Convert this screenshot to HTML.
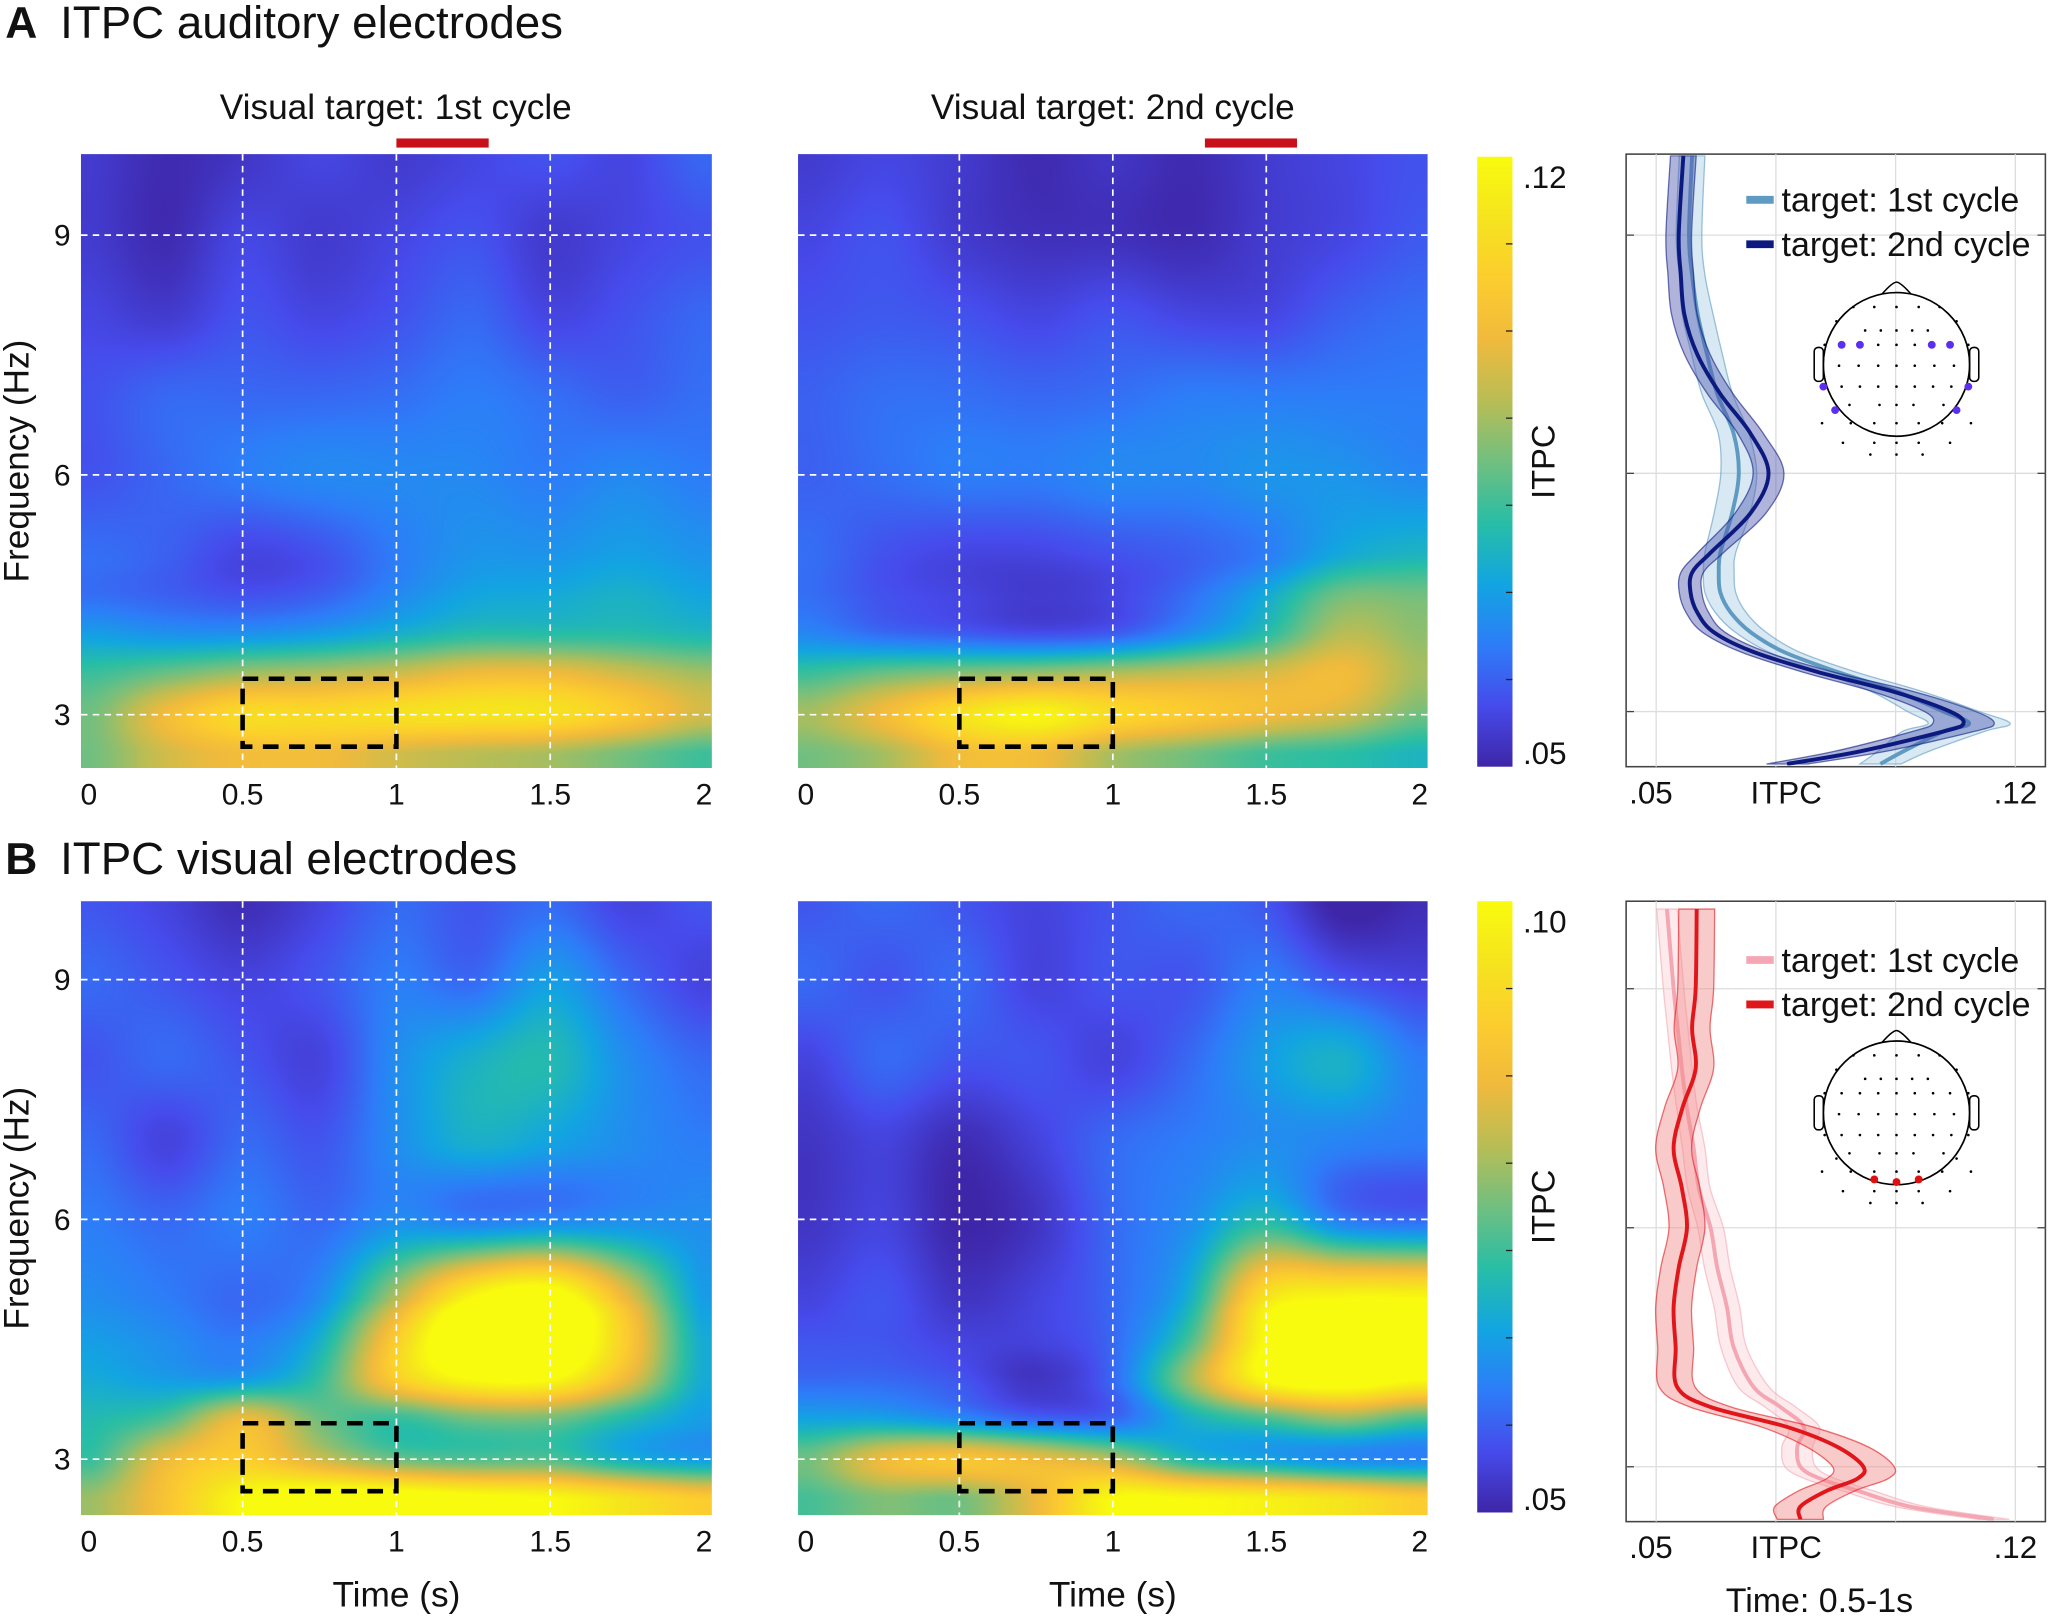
<!DOCTYPE html>
<html><head><meta charset="utf-8">
<style>
html,body{margin:0;padding:0;background:#fff;}
body{width:2048px;height:1617px;overflow:hidden;}
#root{position:absolute;left:0;top:0;width:1568px;height:1238px;transform:scale(1.306122);transform-origin:0 0;}
canvas{position:absolute;}
svg{position:absolute;left:0;top:0;}
text{font-family:"Liberation Sans",Arial,sans-serif;fill:#111;}
</style></head>
<body>
<div id="root">
<canvas id="mA1" style="left:62px;top:118px;width:483px;height:470px" width="966" height="940"></canvas>
<canvas id="mA2" style="left:611px;top:118px;width:482px;height:470px" width="964" height="940"></canvas>
<canvas id="mB1" style="left:62px;top:690px;width:483px;height:470px" width="966" height="940"></canvas>
<canvas id="mB2" style="left:611px;top:690px;width:482px;height:470px" width="964" height="940"></canvas>
<svg id="svg" width="1568" height="1238" viewBox="0 0 1568 1238">
<defs>
<linearGradient id="parula" x1="0" y1="1" x2="0" y2="0">
<stop offset="0" stop-color="rgb(62,38,168)"/><stop offset="0.1" stop-color="rgb(70,75,235)"/>
<stop offset="0.2" stop-color="rgb(45,125,248)"/><stop offset="0.3" stop-color="rgb(18,165,225)"/>
<stop offset="0.4" stop-color="rgb(40,190,165)"/><stop offset="0.5" stop-color="rgb(113,191,128)"/>
<stop offset="0.6" stop-color="rgb(185,189,85)"/><stop offset="0.7" stop-color="rgb(240,186,60)"/>
<stop offset="0.8" stop-color="rgb(252,205,46)"/><stop offset="0.9" stop-color="rgb(245,228,30)"/>
<stop offset="1" stop-color="rgb(249,251,14)"/>
</linearGradient>
</defs>
</svg>
</div>
<script>
// ---------- heatmap data ----------
const times = [0,0.25,0.5,0.75,1,1.25,1.5,1.75,2];
const freqs = [10,9,8,7,6,5,4.5,4,3.5,3,2.5];
const mapA1 = [
[.054,.051,.053,.056,.054,.056,.058,.056,.061],
[.054,.051,.056,.054,.056,.058,.054,.056,.058],
[.056,.054,.058,.056,.058,.061,.056,.058,.061],
[.058,.061,.061,.061,.062,.064,.062,.060,.062],
[.058,.061,.064,.066,.066,.066,.064,.066,.064],
[.062,.060,.056,.058,.064,.068,.068,.070,.068],
[.062,.060,.058,.060,.066,.071,.072,.074,.071],
[.070,.068,.068,.070,.074,.078,.078,.078,.076],
[.080,.085,.090,.092,.095,.100,.100,.095,.090],
[.085,.100,.110,.110,.112,.113,.112,.105,.095],
[.085,.095,.100,.100,.095,.092,.090,.085,.080]];
const mapA2 = [
[.054,.056,.054,.051,.053,.051,.054,.056,.058],
[.056,.058,.054,.052,.052,.051,.054,.056,.059],
[.058,.059,.058,.056,.058,.056,.056,.060,.062],
[.060,.062,.062,.061,.062,.064,.064,.064,.064],
[.060,.062,.064,.064,.066,.066,.068,.068,.066],
[.062,.058,.056,.056,.058,.060,.064,.072,.075],
[.062,.058,.056,.054,.056,.062,.072,.085,.085],
[.066,.062,.060,.058,.060,.068,.078,.092,.088],
[.080,.085,.088,.090,.092,.094,.096,.100,.090],
[.090,.100,.112,.118,.110,.105,.100,.095,.085],
[.085,.090,.100,.100,.090,.085,.080,.078,.075]];
const mapB1 = [
[.056,.054,.051,.054,.058,.056,.058,.054,.056],
[.058,.056,.054,.056,.060,.058,.064,.058,.054],
[.056,.058,.056,.054,.062,.067,.069,.062,.058],
[.058,.054,.058,.056,.062,.067,.065,.062,.060],
[.060,.058,.060,.058,.062,.060,.061,.062,.062],
[.062,.060,.058,.062,.080,.100,.105,.085,.064],
[.064,.062,.060,.067,.090,.110,.110,.090,.066],
[.066,.064,.064,.071,.090,.100,.100,.085,.066],
[.069,.073,.085,.075,.071,.075,.075,.069,.064],
[.071,.085,.090,.082,.075,.073,.073,.067,.064],
[.078,.088,.100,.105,.105,.102,.100,.095,.090]];
const mapB2 = [
[.056,.058,.056,.054,.056,.058,.056,.049,.051],
[.058,.056,.058,.054,.056,.056,.060,.056,.054],
[.054,.058,.056,.056,.054,.058,.064,.067,.060],
[.052,.054,.051,.054,.058,.060,.062,.061,.060],
[.052,.054,.050,.052,.058,.062,.069,.060,.058],
[.054,.056,.052,.054,.058,.067,.095,.100,.100],
[.056,.056,.054,.054,.058,.072,.100,.110,.110],
[.058,.058,.056,.052,.058,.078,.100,.105,.100],
[.065,.065,.062,.058,.058,.067,.072,.077,.072],
[.075,.085,.088,.085,.080,.069,.065,.062,.061],
[.072,.076,.075,.085,.100,.100,.098,.095,.090]];

// ---------- line plot data ----------
const lineFreqA = [10,9,8.5,8,7.5,7,6.5,6,5.5,5,4.75,4.5,4.25,4,3.75,3.5,3.25,3,2.85,2.75,2.5,2.34];
const itpcA2 = [.0553,.0544,.0548,.0555,.058,.0625,.0684,.0719,.0684,.0606,.057,.0567,.058,.0612,.069,.0814,.0963,.1073,.1099,.106,.0898,.0755];
const seA2 =   [.0025,.0025,.0025,.0025,.0025,.0025,.0025,.003,.003,.0025,.0022,.0022,.0022,.0022,.0025,.003,.004,.005,.006,.006,.005,.004];
const itpcA1 = [.057,.0564,.057,.0581,.0599,.0619,.0651,.0661,.0648,.0625,.0622,.0625,.0645,.0684,.0749,.0853,.097,.106,.111,.106,.0982,.0937];
const seA1 =   [.0025,.0025,.0025,.003,.003,.003,.003,.0035,.0035,.003,.003,.003,.003,.003,.003,.0035,.005,.007,.008,.008,.005,.004];
const lineFreqB = [10,9,8.5,8,7.5,7,6.5,6,5.5,5,4.5,4,3.75,3.5,3.25,3,2.85,2.7,2.5,2.34];
const itpcB2 = [.0579,.0577,.057,.0577,.0551,.0534,.055,.056,.0544,.0534,.0538,.0541,.0606,.0755,.0853,.0904,.0892,.0833,.0781,.0781];
const seB2 =   [.0035,.0035,.0035,.0035,.0035,.0035,.0035,.0035,.0035,.0035,.0035,.0035,.004,.005,.006,.006,.006,.0055,.005,.0045];
const itpcB1 = [.0521,.0534,.0542,.055,.056,.0573,.0583,.0606,.0619,.0638,.0651,.069,.0742,.0788,.0775,.0781,.082,.0892,.0995,.1158];
const seB1 =   [.002,.002,.002,.002,.002,.0022,.0022,.0025,.0025,.0025,.0025,.003,.003,.003,.003,.003,.003,.003,.003,.003];

const timeTicks = [0,0.5,1,1.5,2];
const timeTickLabels = ['0','0.5','1','1.5','2'];
const freqTicks = [9,6,3];

// ---------- colormap ----------
const PAR = [[62,38,168],[70,75,235],[45,125,248],[18,165,225],[40,190,165],[113,191,128],[185,189,85],[240,186,60],[252,205,46],[245,228,30],[249,251,14]];
function cmap(u){u=Math.max(0,Math.min(1,u));const p=u*10;const i=Math.min(9,Math.floor(p));const f=p-i;const a=PAR[i],b=PAR[i+1];return [a[0]+(b[0]-a[0])*f,a[1]+(b[1]-a[1])*f,a[2]+(b[2]-a[2])*f];}
function cr(p0,p1,p2,p3,t){return 0.5*((2*p1)+(-p0+p2)*t+(2*p0-5*p1+4*p2-p3)*t*t+(-p0+3*p1-3*p2+p3)*t*t*t);}
function seg(arr,v,desc){
  const n=arr.length;
  if(desc){ if(v>=arr[0])return [0,0]; if(v<=arr[n-1])return [n-2,1];
    for(let i=0;i<n-1;i++){if(v<=arr[i]&&v>=arr[i+1])return [i,(arr[i]-v)/(arr[i]-arr[i+1])];}}
  else { if(v<=arr[0])return [0,0]; if(v>=arr[n-1])return [n-2,1];
    for(let i=0;i<n-1;i++){if(v>=arr[i]&&v<=arr[i+1])return [i,(v-arr[i])/(arr[i+1]-arr[i])];}}
  return [0,0];
}
function drawMap(id,M,vmin,vmax,t0,t1,fTop,fBot){
  const c=document.getElementById(id),ctx=c.getContext('2d');
  const W=c.width,H=c.height,img=ctx.createImageData(W,H);
  const R=M.length,C=M[0].length;
  const g=(r,k)=>M[Math.max(0,Math.min(R-1,r))][Math.max(0,Math.min(C-1,k))];
  for(let y=0;y<H;y++){
    const f=fTop+(fBot-fTop)*(y+0.5)/H;
    const [ri,rf]=seg(freqs,f,true);
    for(let x=0;x<W;x++){
      const t=t0+(t1-t0)*(x+0.5)/W;
      const [ci,cf]=seg(times,t,false);
      const rows=[];
      for(let dr=-1;dr<=2;dr++){const r=ri+dr;rows.push(cr(g(r,ci-1),g(r,ci),g(r,ci+1),g(r,ci+2),cf));}
      const v=cr(rows[0],rows[1],rows[2],rows[3],rf);
      const col=cmap((v-vmin)/(vmax-vmin));const o=(y*W+x)*4;
      img.data[o]=col[0];img.data[o+1]=col[1];img.data[o+2]=col[2];img.data[o+3]=255;
    }
  }
  ctx.putImageData(img,0,0);
}
drawMap('mA1',mapA1,.05,.12,-0.03,2.03,10.01,2.33);
drawMap('mA2',mapA2,.05,.12,-0.03,2.03,10.01,2.33);
drawMap('mB1',mapB1,.05,.10,-0.03,2.03,9.98,2.30);
drawMap('mB2',mapB2,.05,.10,-0.03,2.03,9.98,2.30);

// ---------- svg overlay ----------
const svg=document.getElementById('svg');const NS='http://www.w3.org/2000/svg';
function el(tag,attrs,parent,txt){const e=document.createElementNS(NS,tag);for(const k in attrs)e.setAttribute(k,attrs[k]);if(txt!==undefined)e.textContent=txt;(parent||svg).appendChild(e);return e;}

function txt(x,y,s,size,anchor,name,extra){const e=el('text',Object.assign({x:x,y:y,'font-size':size,'text-anchor':anchor||'start'},extra||{}),svg,s);


return e;}

txt(4,29,'A',34,'start','panel-a-letter',{'font-weight':'bold'});
txt(46,29,'ITPC auditory electrodes',35,'start','panel-a-title');
txt(4,669,'B',34,'start','panel-b-letter',{'font-weight':'bold'});
txt(46,669,'ITPC visual electrodes',35,'start','panel-b-title');
txt(303,91,'Visual target: 1st cycle',27,'middle','subtitle-1st-cycle');
txt(852,91,'Visual target: 2nd cycle',27,'middle','subtitle-2nd-cycle');

function heatAxes(x0,y0,w,h,f9y,pxHz,showFreq,showTime){
  const tx=t=>x0+6+t*(w-12)/2;
  const fy=f=>f9y+(9-f)*pxHz;
  for(const t of timeTicks.slice(1,4)){
    const l=el('line',{x1:tx(t),x2:tx(t),y1:y0,y2:y0+h,stroke:'#fff','stroke-width':1.3,'stroke-dasharray':'5 4'});
    
    
  }
  for(const f of freqTicks){
    const l=el('line',{x1:x0,x2:x0+w,y1:fy(f),y2:fy(f),stroke:'#fff','stroke-width':1.3,'stroke-dasharray':'5 4'});
    
    
    if(showFreq) txt(x0-8,fy(f)+8,String(f),23,'end','freq-tick-label');
  }
  timeTicks.forEach((t,i)=>txt(tx(t),y0+h+28,timeTickLabels[i],23,'middle','time-tick-label'));
  if(showTime) txt(x0+w/2,y0+h+70,'Time (s)',27,'middle','x-axis-title');
  if(showFreq) txt(0,0,'Frequency (Hz)',27,'middle','y-axis-title',{transform:`translate(22,${y0+h/2}) rotate(-90)`});
  const r=el('rect',{x:tx(0.5),y:fy(3.45),width:tx(1)-tx(0.5),height:fy(2.6)-fy(3.45),fill:'none',stroke:'#000','stroke-width':3.5,'stroke-dasharray':'12 8'});
  
  
  return tx;
}
const txA1=heatAxes(62,118,483,470,180,61.2,true,false);
const txA2=heatAxes(611,118,482,470,180,61.2,false,false);
heatAxes(62,690,483,470,750,61.2,true,true);
heatAxes(611,690,482,470,750,61.2,false,true);

let rb=el('rect',{x:txA1(1),y:106,width:txA1(1.3)-txA1(1),height:7,fill:'#c8101a'});


rb=el('rect',{x:txA2(1.3),y:106,width:txA2(1.6)-txA2(1.3),height:7,fill:'#c8101a'});



function colorbar(y0,h,top,name){
  const r=el('rect',{x:1131,y:y0,width:27,height:h,fill:'url(#parula)'});
  
  
  for(let i=1;i<7;i++){el('line',{x1:1153,x2:1158,y1:y0+h*i/7,y2:y0+h*i/7,stroke:'#222','stroke-width':1});}
  txt(1166,y0+24,top,24,'start','colorbar-max-label');
  txt(1166,y0+h-2,'.05',24,'start','colorbar-min-label');
  txt(0,0,'ITPC',25,'middle','colorbar-title',{transform:`translate(1190,${y0+h/2}) rotate(-90)`});
}
colorbar(120,467,'.12','colorbar-a');
colorbar(690,468,'.10','colorbar-b');

function smoothPath(pts){
  let d=`M${pts[0][0]},${pts[0][1]}`;
  for(let i=0;i<pts.length-1;i++){
    const p0=pts[Math.max(0,i-1)],p1=pts[i],p2=pts[i+1],p3=pts[Math.min(pts.length-1,i+2)];
    const c1=[p1[0]+(p2[0]-p0[0])/6,p1[1]+(p2[1]-p0[1])/6],c2=[p2[0]-(p3[0]-p1[0])/6,p2[1]-(p3[1]-p1[1])/6];
    d+=` C${c1[0]},${c1[1]} ${c2[0]},${c2[1]} ${p2[0]},${p2[1]}`;
  }
  return d;
}
function linePlot(y0,h,f9y,pxHz,F,s1,e1,s2,e2,c1,c2,b1,b2,cid,legendName,legY){
  const x0=1245,w=321;
  const xv=v=>1268+(v-.05)/.07*275;
  const fy=f=>f9y+(9-f)*pxHz;
  const frame=el('rect',{x:x0,y:y0,width:w,height:h,fill:'#fff',stroke:'#444','stroke-width':1.2});
  
  
  [.05,.05+.07/3,.05+.14/3,.12].forEach(v=>el('line',{x1:xv(v),x2:xv(v),y1:y0,y2:y0+h,stroke:'#ddd','stroke-width':1}));
  freqTicks.forEach(f=>{el('line',{x1:x0,x2:x0+w,y1:fy(f),y2:fy(f),stroke:'#ddd','stroke-width':1});
    el('line',{x1:x0,x2:x0+6,y1:fy(f),y2:fy(f),stroke:'#444'});el('line',{x1:x0+w-6,x2:x0+w,y1:fy(f),y2:fy(f),stroke:'#444'});});
  const clip=el('clipPath',{id:cid});el('rect',{x:x0,y:y0+1,width:w,height:h-2},clip);
  const g=el('g',{'clip-path':`url(#${cid})`});
  function series(s,e,col,band,name,lw){
    const hi=F.map((f,i)=>[xv(s[i]+e[i]),fy(f)]),lo=F.map((f,i)=>[xv(s[i]-e[i]),fy(f)]).reverse();
    const dh=smoothPath(hi),dl=smoothPath(lo);
    const b=el('path',{d:dh+' L'+dl.slice(1)+' Z',fill:band,'fill-opacity':0.45,stroke:col,'stroke-opacity':0.6,'stroke-width':1},g);
    
    
    const l=el('path',{d:smoothPath(F.map((f,i)=>[xv(s[i]),fy(f)])),fill:'none',stroke:col,'stroke-width':lw},g);
    
    
  }
  series(s1,e1,c1,b1,'series-1st-cycle',3);
  series(s2,e2,c2,b2,'series-2nd-cycle',3);
  txt(xv(.05)-4,y0+h+28,'.05',24,'middle','itpc-tick-label');
  txt(xv(.0733)+8,y0+h+28,'ITPC',24,'middle','itpc-axis-title');
  txt(xv(.12),y0+h+28,'.12',24,'middle','itpc-tick-label');
  const lg=el('g',{});
  
  
  el('line',{x1:1337,x2:1358,y1:legY-9,y2:legY-9,stroke:c1,'stroke-width':6},lg);
  el('line',{x1:1337,x2:1358,y1:legY+25,y2:legY+25,stroke:c2,'stroke-width':6},lg);
  txt(1364,legY,'target: 1st cycle',26,'start','legend-entry-1st-cycle');
  txt(1364,legY+34,'target: 2nd cycle',26,'start','legend-entry-2nd-cycle');
}
linePlot(118,469,180,60.8,lineFreqA,itpcA1,seA1,itpcA2,seA2,'#5e9ac2','#0c1a80','#a8cfe6','#5058b0','clipA','legend-a',162);
linePlot(690,475,757,61,lineFreqB,itpcB1,seB1,itpcB2,seB2,'#f4a7b3','#e0161b','#fbd0d6','#f28a8a','clipB','legend-b',744);
txt(1393,1234,'Time: 0.5-1s',26,'middle','line-plot-time-label');

function topo(cx,cy,sel,col,name){
  const g=el('g',{});
  
  
  const rx=56,ry=55;
  el('path',{d:`M${cx-11},${cy-ry+1} Q${cx-3},${cy-ry-8} ${cx},${cy-ry-8} Q${cx+3},${cy-ry-8} ${cx+11},${cy-ry+1}`,fill:'none',stroke:'#000','stroke-width':1.2},g);
  el('rect',{x:cx-rx-7,y:cy-13,width:7,height:26,rx:3,fill:'none',stroke:'#000','stroke-width':1.2},g);
  el('rect',{x:cx+rx,y:cy-13,width:7,height:26,rx:3,fill:'none',stroke:'#000','stroke-width':1.2},g);
  el('ellipse',{cx:cx,cy:cy,rx:rx,ry:ry,fill:'none',stroke:'#000','stroke-width':1.3},g);
  const rows=[[-44,[-33,-17,0,17,33]],[-33,[-46,46]],[-26,[-24,-12,0,12,24]],[-15,[-55,-42,-28,-14,0,14,28,41,55]],[1,[-44,-29,-14,0,14,29,44]],[17,[-55,-42,-28,-14,0,14,28,42,55]],[31,[-36,-13,0,13,36]],[35,[-46,46]],[45,[-57,-35,-17,0,17,35,57]],[60,[-41,-17,0,17,41]],[69,[-20,0,20]]];
  rows.forEach(([dy,xs])=>xs.forEach(dx=>el('circle',{cx:cx+dx,cy:cy+dy,r:1,fill:'#000'},g)));
  sel.forEach(([dx,dy])=>el('circle',{cx:cx+dx,cy:cy+dy,r:3,fill:col},g));
}
topo(1452,279,[[-42,-15],[-28,-15],[27,-15],[41,-15],[-56,17],[55,17],[-47,35],[46,35]],'#5b2ff0','topoplot-auditory');
topo(1452,852,[[-17,51],[0,53],[17,51]],'#e01010','topoplot-visual');
</script>
</body></html>
